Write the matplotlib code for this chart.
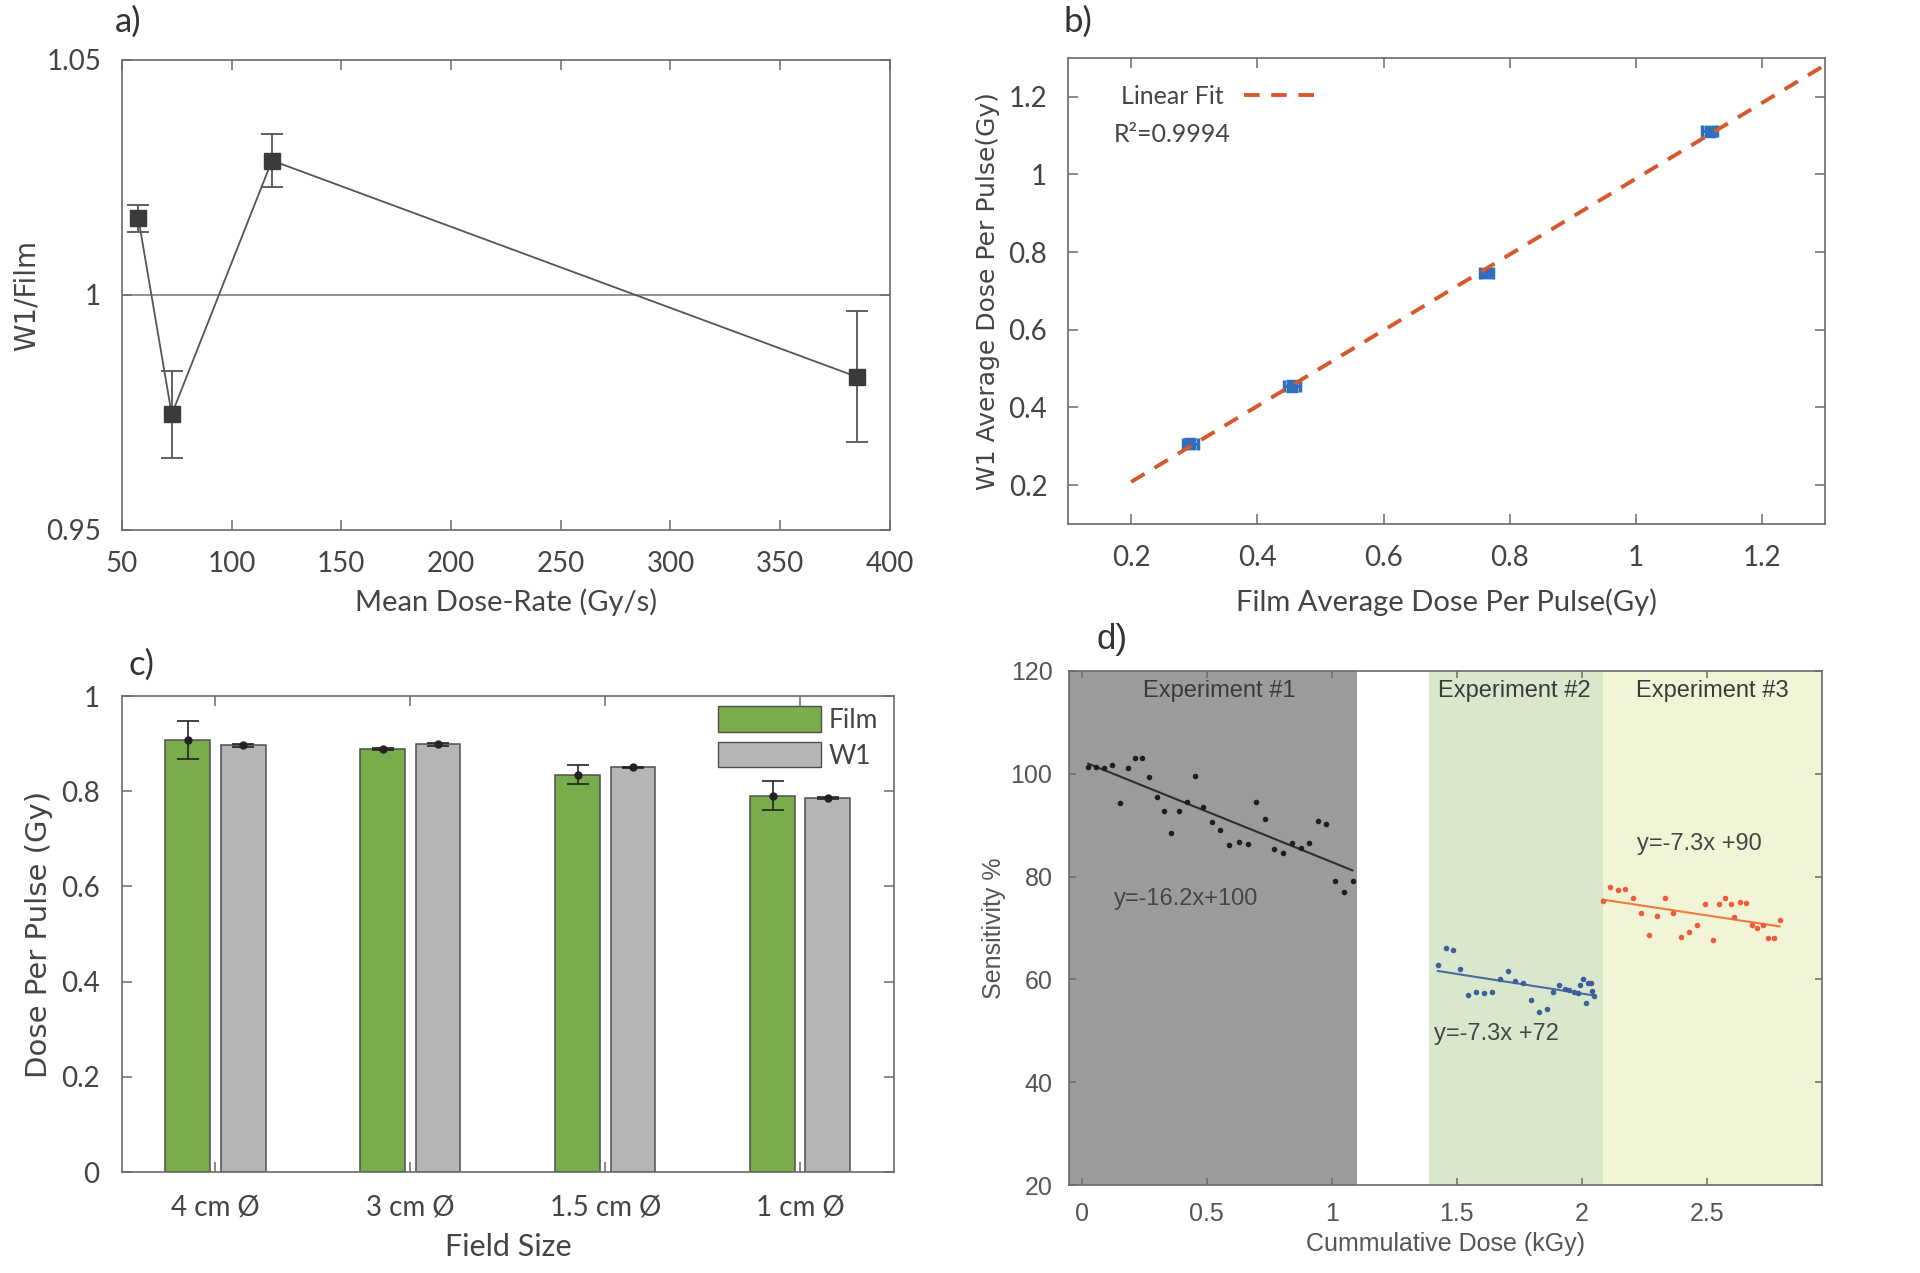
import numpy as np
import matplotlib.pyplot as plt
from matplotlib.patches import Patch
from matplotlib.lines import Line2D

# a) W1/Film ratio vs mean dose rate
rate = [57.5, 72.7, 118.4, 384.8]
ratio = [1.0163, 0.9746, 1.0286, 0.9826]
ratio_err = [0.0028, 0.0093, 0.0057, 0.0139]

# b) W1 vs film average dose per pulse
film_dpp = [0.2935, 0.455, 0.763, 1.117]
w1_dpp = [0.307, 0.455, 0.745, 1.111]
dpp_err = [0.012, 0.012, 0.010, 0.012]

# c) dose per pulse per field size
fields = ['4 cm Ø', '3 cm Ø', '1.5 cm Ø', '1 cm Ø']
film_dose = [0.907, 0.888, 0.8345, 0.791]
film_err = [0.040, 0.002, 0.020, 0.031]
w1_dose = [0.897, 0.899, 0.850, 0.786]
w1_err = [0.003, 0.003, 0.002, 0.002]

# d) sensitivity vs cumulative dose
exp1_x = [0.027, 0.057, 0.088, 0.121, 0.155, 0.185, 0.215, 0.243, 0.271, 0.300, 0.328,
          0.356, 0.389, 0.421, 0.453, 0.487, 0.520, 0.555, 0.591, 0.628, 0.667, 0.699,
          0.733, 0.771, 0.807, 0.843, 0.876, 0.911, 0.944, 0.976, 1.013, 1.048, 1.083]
exp1_y = [101.3, 101.4, 101.2, 101.8, 94.4, 101.2, 103.1, 103.1, 99.3, 95.4, 92.8,
          88.5, 92.7, 94.6, 99.6, 93.5, 90.6, 89.0, 86.1, 86.7, 86.3, 94.6,
          91.2, 85.4, 84.5, 86.6, 85.5, 86.5, 90.8, 90.3, 79.2, 77.1, 79.1]
exp2_x = [1.424, 1.455, 1.484, 1.513, 1.544, 1.576, 1.608, 1.641, 1.672, 1.703, 1.731,
          1.763, 1.795, 1.828, 1.860, 1.885, 1.909, 1.933, 1.950, 1.967, 1.984, 1.993,
          2.004, 2.016, 2.024, 2.036, 2.041, 2.050]
exp2_y = [62.8, 66.2, 65.8, 62.1, 57.0, 57.5, 57.3, 57.5, 60.0, 61.7, 59.7,
          59.3, 55.9, 53.7, 54.2, 57.5, 59.0, 58.2, 57.9, 57.5, 57.4, 59.0,
          60.0, 55.4, 59.4, 59.4, 57.7, 56.7]
exp3_x = [2.083, 2.112, 2.144, 2.173, 2.204, 2.236, 2.269, 2.301, 2.332, 2.363, 2.395,
          2.428, 2.460, 2.491, 2.523, 2.547, 2.571, 2.597, 2.609, 2.631, 2.656, 2.681,
          2.701, 2.723, 2.745, 2.769, 2.790]
exp3_y = [75.3, 77.9, 77.3, 77.6, 75.9, 73.0, 68.6, 72.3, 75.8, 73.0, 68.3,
          69.2, 70.5, 74.7, 67.7, 74.7, 75.9, 74.6, 72.2, 75.0, 74.8, 70.6,
          70.0, 70.6, 68.1, 68.1, 71.6]
exp_names = ['Experiment #1', 'Experiment #2', 'Experiment #3']
exp_spans = [(-0.05, 1.10), (1.39, 2.084), (2.084, 2.96)]
equations = ['y=-16.2x+100', 'y=-7.3x +72', 'y=-7.3x +90']

TICK = ['Lato', 'DejaVu Sans']
YLAB = ['DejaVu Sans']
HEL = ['Liberation Sans', 'DejaVu Sans']
TXT = '#444444'
SPINE = '#6a6a6a'

fig = plt.figure(figsize=(19.2, 12.73), dpi=100)


def style(ax, fam, size, pad):
    ax.tick_params(direction='in', top=True, right=True, length=7, width=1.1,
                   color=SPINE, labelcolor=TXT, labelsize=size, pad=pad)
    for lab in ax.get_xticklabels() + ax.get_yticklabels():
        lab.set_family(fam)
    for s in ax.spines.values():
        s.set_color(SPINE)
        s.set_linewidth(1.2)


# ---- a)
ax = fig.add_axes([0.0635, 0.5837, 0.400, 0.3692])
ax.axhline(1, color='#8a8a8a', lw=1.3, zorder=1)
ax.plot(rate, ratio, color='#555555', lw=1.3, zorder=2)
ax.errorbar(rate, ratio, yerr=ratio_err, fmt='s', ms=12, color='#3b3b3b',
            ecolor='#555555', elinewidth=1.3, capsize=8, capthick=1.3, zorder=3)
ax.set_xlim(50, 400)
ax.set_ylim(0.95, 1.05)
ax.set_xticks(range(50, 401, 50))
ax.set_yticks([0.95, 1, 1.05])
ax.set_yticklabels(['0.95', '1', '1.05'])
style(ax, TICK, 20, 15)
ax.set_xlabel('Mean Dose-Rate (Gy/s)', family=TICK, fontsize=21, color=TXT)
ax.set_ylabel('W1/Film', family=YLAB, fontsize=20, color=TXT)
ax.xaxis.set_label_coords(0.5, -0.153)
ax.yaxis.set_label_coords(-0.124, 0.5)
ax.xaxis.label.set_va('center')
ax.yaxis.label.set_va('center')

# ---- b)
ax = fig.add_axes([0.5563, 0.5884, 0.3943, 0.3661])
ax.errorbar(film_dpp, w1_dpp, xerr=dpp_err, yerr=dpp_err, fmt='s', ms=7,
            color='#2f6fbf', elinewidth=2.5, capsize=4, capthick=2.5, zorder=2)
coef = np.polyfit(film_dpp, w1_dpp, 1)
fx = np.array([0.2, 1.3])
ax.plot(fx, np.polyval(coef, fx), color='#d9572b', lw=2.8, dashes=(4, 3), zorder=3)
ax.legend([Line2D([], [], color='#d9572b', lw=2.8, dashes=(4, 3))], ['Linear Fit'],
          loc='upper left', bbox_to_anchor=(0.04, 0.99), frameon=False, markerfirst=False,
          handlelength=3.2, prop={'family': TICK, 'size': 18}, labelcolor=TXT)
ax.text(0.172, 1.103, 'R²=0.9994', family=TICK, fontsize=18, color=TXT, va='center')
ax.set_xlim(0.1, 1.3)
ax.set_ylim(0.1, 1.3)
ticks = [0.2, 0.4, 0.6, 0.8, 1, 1.2]
ax.set_xticks(ticks)
ax.set_yticks(ticks)
ax.set_xticklabels(['0.2', '0.4', '0.6', '0.8', '1', '1.2'])
ax.set_yticklabels(['0.2', '0.4', '0.6', '0.8', '1', '1.2'])
style(ax, TICK, 20, 15)
ax.set_xlabel('Film Average Dose Per Pulse(Gy)', family=TICK, fontsize=21, color=TXT)
ax.set_ylabel('W1 Average Dose Per Pulse(Gy)', family=YLAB, fontsize=18, color=TXT)
ax.xaxis.set_label_coords(0.5, -0.167)
ax.yaxis.set_label_coords(-0.106, 0.5)
ax.xaxis.label.set_va('center')
ax.yaxis.label.set_va('center')

# ---- c)
ax = fig.add_axes([0.0635, 0.0793, 0.402, 0.3739])
xpos = np.arange(1, len(fields) + 1)
w = 0.23
ax.bar(xpos - 0.142, film_dose, w, color='#79ad4b', edgecolor='#4f4f4f', lw=1.1, label='Film')
ax.bar(xpos + 0.142, w1_dose, w, color='#b5b5b7', edgecolor='#4f4f4f', lw=1.1, label='W1')
ax.errorbar(xpos - 0.142, film_dose, yerr=film_err, fmt='o', ms=5, color='#222222',
            elinewidth=1.2, capsize=8, capthick=1.2)
ax.errorbar(xpos + 0.142, w1_dose, yerr=w1_err, fmt='o', ms=5, color='#222222',
            elinewidth=1.2, capsize=8, capthick=1.2)
ax.legend(handles=[Patch(facecolor='#79ad4b', edgecolor='#4f4f4f', label='Film'),
                   Patch(facecolor='#b5b5b7', edgecolor='#4f4f4f', label='W1')],
          loc='upper right', bbox_to_anchor=(1.0, 1.012), frameon=False,
          handlelength=3.9, handleheight=1.1, labelspacing=0.35, handletextpad=0.3,
          borderaxespad=0.2, prop={'family': TICK, 'size': 19}, labelcolor=TXT)
ax.set_xlim(0.52, 4.48)
ax.set_ylim(0, 1)
ax.set_xticks(xpos)
ax.set_xticklabels(fields)
ax.set_yticks([0, 0.2, 0.4, 0.6, 0.8, 1])
ax.set_yticklabels(['0', '0.2', '0.4', '0.6', '0.8', '1'])
style(ax, TICK, 20, 16)
ax.set_xlabel('Field Size', family=TICK, fontsize=22, color=TXT)
ax.set_ylabel('Dose Per Pulse (Gy)', family=YLAB, fontsize=21, color=TXT)
ax.xaxis.set_label_coords(0.5, -0.158)
ax.yaxis.set_label_coords(-0.107, 0.5)
ax.xaxis.label.set_va('center')
ax.yaxis.label.set_va('center')

# ---- d)
ax = fig.add_axes([0.5568, 0.0691, 0.3922, 0.4038])
for (a, b), c in zip(exp_spans, ['#9b9b9b', '#d9e8cd', '#f1f4d5']):
    ax.axvspan(a, b, color=c, lw=0, zorder=0)
sets = [(exp1_x, exp1_y, '#1e1e1e', '#2e2e2e'),
        (exp2_x, exp2_y, '#3d5f9c', '#4a6aa3'),
        (exp3_x, exp3_y, '#ef5b3b', '#f07a3e')]
for x, y, dc, lc in sets:
    ax.scatter(x, y, s=16, color=dc, lw=0, zorder=3)
    k = np.polyfit(x, y, 1)
    lx = np.array([min(x), max(x)])
    ax.plot(lx, np.polyval(k, lx), color=lc, lw=1.5, zorder=2)
name_x = [0.55, 1.73, 2.52]
for nx, name in zip(name_x, exp_names):
    ax.text(nx, 116.2, name, ha='center', va='center', family=HEL, fontsize=17, color='#3a3a3a')
eq_pos = [(0.13, 75.7), (1.41, 49.3), (2.22, 86.4)]
for (ex, ey), eq in zip(eq_pos, equations):
    ax.text(ex, ey, eq, ha='left', va='center', family=HEL, fontsize=17, color='#454545')
ax.set_xlim(-0.05, 2.96)
ax.set_ylim(20, 120)
ax.set_xticks([0, 0.5, 1, 1.5, 2, 2.5])
ax.set_xticklabels(['0', '0.5', '1', '1.5', '2', '2.5'])
ax.set_yticks(range(20, 121, 20))
style(ax, HEL, 18, 12)
ax.tick_params(length=5, labelcolor='#555555')
ax.set_xlabel('Cummulative Dose (kGy)', family=HEL, fontsize=18, color='#555555')
ax.set_ylabel('Sensitivity %', family=HEL, fontsize=18, color='#555555')
ax.xaxis.set_label_coords(0.5, -0.115)
ax.yaxis.set_label_coords(-0.1, 0.5)
ax.xaxis.label.set_va('center')
ax.yaxis.label.set_va('center')

# panel letters
fig.text(115 / 1920, 1 - 22 / 1273, 'a)', family=TICK, fontsize=25, color='#333333', va='center')
fig.text(1063 / 1920, 1 - 22 / 1273, 'b)', family=TICK, fontsize=25, color='#333333', va='center')
fig.text(128 / 1920, 1 - 665 / 1273, 'c)', family=TICK, fontsize=25, color='#333333', va='center')
fig.text(1096 / 1920, 1 - 640 / 1273, 'd)', family=HEL, fontsize=25, color='#333333', va='center')

fig.savefig('out.png', dpi=100)
